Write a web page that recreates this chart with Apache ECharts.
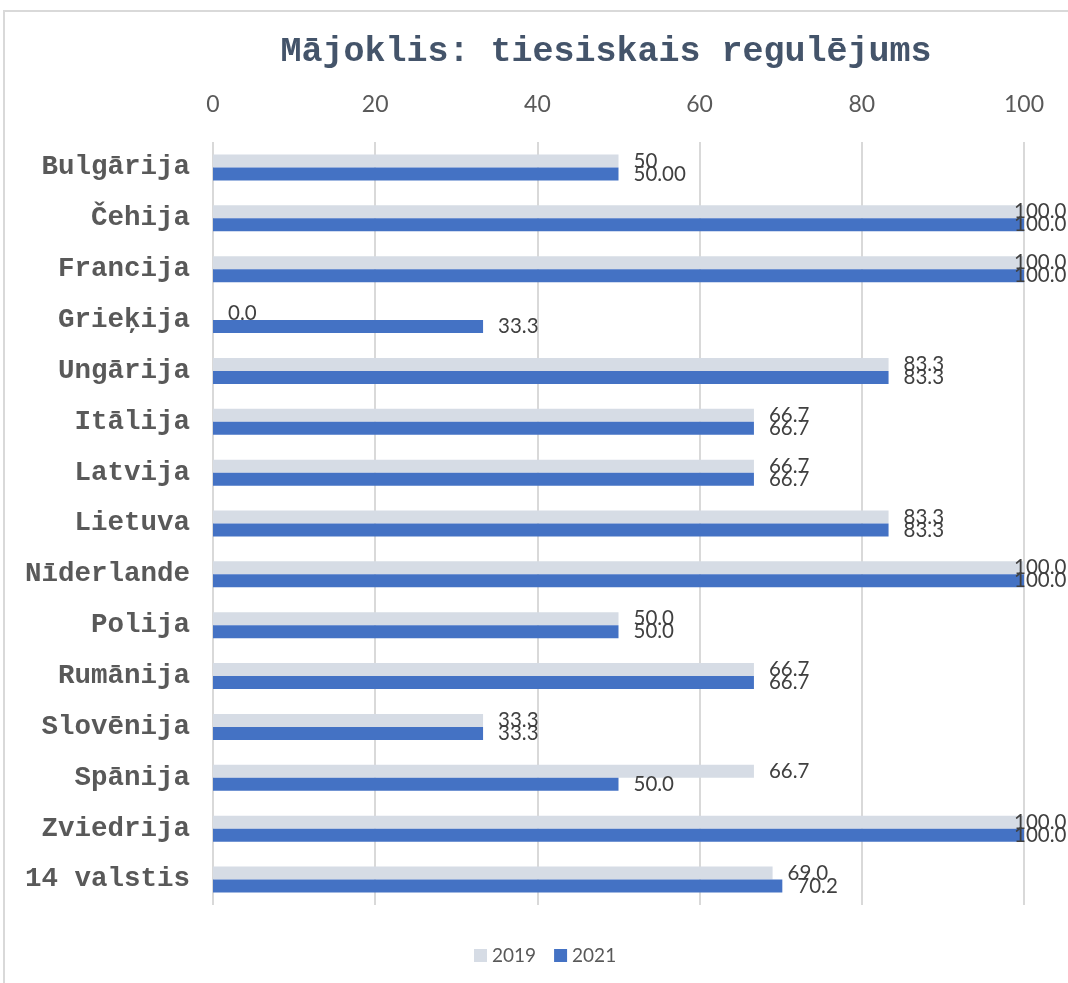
<!DOCTYPE html>
<html>
<head>
<meta charset="utf-8">
<title>Mājoklis: tiesiskais regulējums</title>
<script src="https://cdn.jsdelivr.net/npm/echarts@6/dist/echarts.min.js"></script>
<style>
  html, body { margin: 0; padding: 0; background: #ffffff; }
  #chart { width: 1068px; height: 983px; }
</style>
</head>
<body>
<div id="chart"></div>
<script>
// Countries, top to bottom
const categories = [
  'Bulgārija', 'Čehija', 'Francija', 'Grieķija', 'Ungārija', 'Itālija', 'Latvija',
  'Lietuva', 'Nīderlande', 'Polija', 'Rumānija', 'Slovēnija', 'Spānija', 'Zviedrija', '14 valstis'
];

// Scores per year
const values2019 = [50, 100, 100, 0, 83.3, 66.7, 66.7, 83.3, 100, 50, 66.7, 33.3, 66.7, 100, 69.0];
const values2021 = [50, 100, 100, 33.3, 83.3, 66.7, 66.7, 83.3, 100, 50, 66.7, 33.3, 50, 100, 70.2];

// Number of decimals shown in each value label
const decimals2019 = [0, 1, 1, 1, 1, 1, 1, 1, 1, 1, 1, 1, 1, 1, 1];
const decimals2021 = [2, 1, 1, 1, 1, 1, 1, 1, 1, 1, 1, 1, 1, 1, 1];

const seriesNames = ['2019', '2021'];
const xTicks = { min: 0, max: 100, interval: 20 };

const labelFont = 'Lato, "Open Sans", sans-serif';

// Build data items; labels of full-length bars are pulled back inside the chart edge
function buildData(values, decimals) {
  return values.map(function (v, i) {
    const item = { value: v, labelText: v.toFixed(decimals[i]) };
    if (v >= 100) {
      item.label = { offset: [-25, 0] };
    }
    return item;
  });
}

function makeSeries(name, values, decimals, color) {
  return {
    name: name,
    type: 'bar',
    barWidth: 13,
    barGap: '0%',
    itemStyle: { color: color },
    label: {
      show: true,
      position: 'right',
      distance: 15,
      color: '#404040',
      fontFamily: labelFont,
      fontSize: 20.5,
      formatter: function (p) { return p.data.labelText; }
    },
    data: buildData(values, decimals)
  };
}

const chart = echarts.init(document.getElementById('chart'), null, { renderer: 'canvas' });

chart.setOption({
  backgroundColor: '#ffffff',
  animation: false,
  graphic: [{
    type: 'rect',
    shape: { x: 4, y: 11, width: 1200, height: 1100 },
    style: { fill: 'none', stroke: '#d9d9d9', lineWidth: 2 },
    silent: true,
    z: -10
  }],
  title: {
    text: 'Mājoklis: tiesiskais regulējums',
    left: 601,
    top: 30,
    textAlign: 'center',
    textStyle: {
      fontFamily: '"Liberation Mono", "Courier New", monospace',
      fontWeight: 'bold',
      fontSize: 35,
      color: '#44546a'
    }
  },
  legend: {
    data: seriesNames,
    left: 469,
    top: 941,
    itemWidth: 13,
    itemHeight: 13,
    itemGap: 18,
    icon: 'rect',
    textStyle: { fontFamily: labelFont, fontSize: 19, color: '#595959' }
  },
  grid: { left: 213, right: 44, top: 142, bottom: 78, containLabel: false },
  xAxis: {
    type: 'value',
    position: 'top',
    min: xTicks.min,
    max: xTicks.max,
    interval: xTicks.interval,
    axisLine: { show: false },
    axisTick: { show: false },
    axisLabel: {
      margin: 26,
      color: '#595959',
      fontFamily: labelFont,
      fontSize: 23
    },
    splitLine: { show: true, lineStyle: { color: '#d9d9d9', width: 2 } }
  },
  yAxis: {
    type: 'category',
    data: categories,
    inverse: true,
    axisLine: { show: false },
    axisTick: { show: false },
    axisLabel: {
      margin: 23,
      color: '#595959',
      fontFamily: '"Liberation Mono", "Courier New", monospace',
      fontWeight: 'bold',
      fontSize: 27.5
    }
  },
  series: [
    makeSeries(seriesNames[0], values2019, decimals2019, '#d6dce5'),
    makeSeries(seriesNames[1], values2021, decimals2021, '#4472c4')
  ]
});
</script>
</body>
</html>
